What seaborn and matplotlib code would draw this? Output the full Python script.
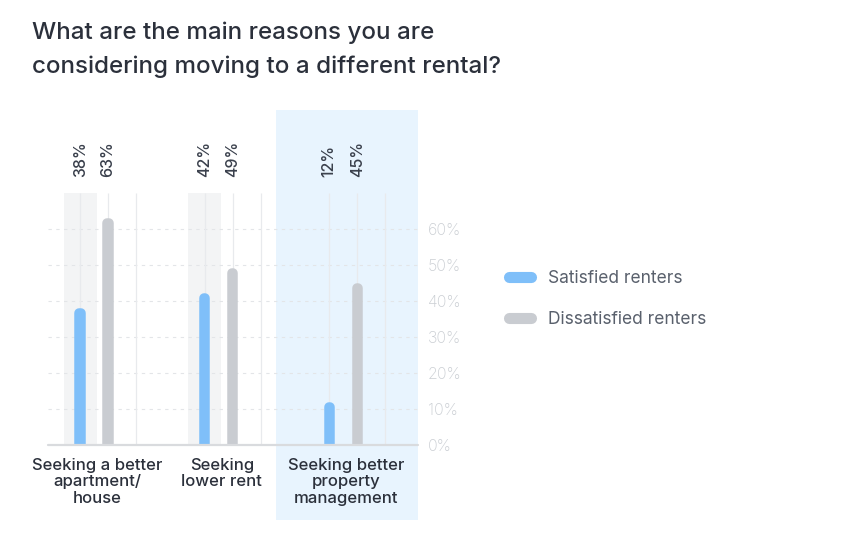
import matplotlib
matplotlib.use("Agg")
import matplotlib.pyplot as plt
from matplotlib.patches import Rectangle
from matplotlib.lines import Line2D
import seaborn as sns
import pandas as pd

# Chart data
reasons = ["Seeking a better\napartment/\nhouse", "Seeking\nlower rent", "Seeking better\nproperty\nmanagement"]
satisfied = [38, 42, 12]
dissatisfied = [63, 49, 45]
groups = ["Satisfied renters", "Dissatisfied renters"]
y_ticks = [0, 10, 20, 30, 40, 50, 60]

BLUE = "#7fbff9"
GRAY = "#c9ccd1"
DARK = "#2b303b"

df = pd.DataFrame({
    "reason": reasons * 2,
    "group": [groups[0]] * 3 + [groups[1]] * 3,
    "pct": satisfied + dissatisfied,
})

sns.set_theme(style="white")
plt.rcParams["font.family"] = ["Inter", "DejaVu Sans"]

fig = plt.figure(figsize=(8.52, 5.57), dpi=100)
ax = fig.add_axes([48 / 852, 112 / 557, 370 / 852, 335 / 557])

sns.barplot(data=df, x="reason", y="pct", hue="group", hue_order=groups,
            palette=[BLUE, GRAY], width=0.448, gap=0.95, saturation=1,
            errorbar=None, legend=False, ax=ax)

ax.set_xlim(-0.37, 2.60)
ax.set_ylim(0, 93)

# round tops: thick edge with round joins, clipped at the baseline
lw_px = 9.5
r_data = (lw_px / 2) / 3.6
for p in ax.patches:
    c = p.get_facecolor()
    p.set_edgecolor(c)
    p.set_linewidth(lw_px * 72 / 100)
    p.set_joinstyle("round")
    p.set_height(p.get_height() - r_data)
    p.set_zorder(3)
    clip = Rectangle((-1, 0), 5, 200, transform=ax.transData)
    p.set_clip_path(clip)

off = 0.112
# highlighted band for the last group
ax.add_patch(Rectangle((1.462, -20.8), 2.60 - 1.462, 93 + 20.8, facecolor="#e8f4fe",
                       edgecolor="none", clip_on=False, zorder=0))
# faint shading behind satisfied bars
for i in range(2):
    ax.add_patch(Rectangle((i - off - 0.1325, 0), 0.265, 70, facecolor="#f3f4f5",
                           edgecolor="none", zorder=0.5))
# slot guide lines
for i in range(3):
    ax.vlines([i - off, i + off, i + 3 * off], 0, 70, color="#e8eaed", lw=0.9, zorder=1)

ax.set_yticks(y_ticks)
ax.yaxis.grid(True, linestyle=(0, (3, 4)), color="#e3e5e8", lw=0.8)
ax.set_axisbelow(True)
ax.yaxis.tick_right()
ax.set_yticklabels([f"{v}%" for v in y_ticks], color="#caced3", fontsize=11.5,
                   fontweight="light")
ax.tick_params(axis="y", length=0, pad=7)
ax.set_xticks([])
ax.set_xlabel("")
ax.set_ylabel("")
for s in ax.spines.values():
    s.set_visible(False)
ax.axhline(0, color="#d9dbde", lw=1.6, zorder=4, clip_on=False)

# value labels
for i in range(3):
    for dx, v in ((-off, satisfied[i]), (off, dissatisfied[i])):
        ax.text(i + dx, 74.5, f"{v}%", rotation=90, ha="center", va="bottom",
                fontsize=11.5, color="#3a404c", fontweight="medium")

# category labels
for i, lab in enumerate(reasons):
    ax.text(i + 0.025, -3.6, lab, ha="center", va="top", fontsize=12,
            color=DARK, fontweight="medium", linespacing=1.12)

fig.text(32 / 852, 1 - 22 / 557,
         "What are the main reasons you are\nconsidering moving to a different rental?",
         ha="left", va="top", fontsize=17.4, color=DARK, fontweight="medium",
         linespacing=1.6)

handles = [Line2D([], [], color=BLUE, lw=8, solid_capstyle="round"),
           Line2D([], [], color=GRAY, lw=8, solid_capstyle="round")]
fig.legend(handles, groups, loc="upper left", bbox_to_anchor=(493 / 852, 1 - 254 / 557),
           frameon=False, handlelength=1.3, handletextpad=0.95, labelspacing=1.38,
           fontsize=12.5, labelcolor="#59606c")

fig.savefig("out.png", dpi=100)
